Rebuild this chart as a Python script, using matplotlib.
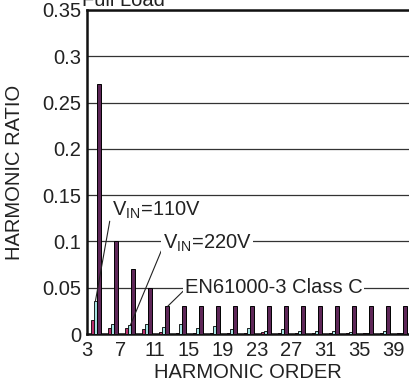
import matplotlib
matplotlib.use("Agg")
import matplotlib.pyplot as plt
import numpy as np

plt.rcParams['font.family'] = ['Liberation Sans', 'DejaVu Sans']
plt.rcParams['mathtext.fontset'] = 'custom'
plt.rcParams['mathtext.rm'] = 'Liberation Sans'
plt.rcParams['mathtext.it'] = 'Liberation Sans'

# odd harmonics 3..39
harmonics = list(range(3, 40, 2))

# measured harmonic ratio at full load
vin_110 = [0.015, 0.007, 0.006, 0.005, 0.0025, 0.0015, 0.001, 0.0015, 0.0015, 0.001,
           0.002, 0.001, 0.0015, 0.001, 0.0015, 0.0015, 0.001, 0.0015, 0.001]
vin_220 = [0.036, 0.0105, 0.0095, 0.0105, 0.008, 0.0105, 0.006, 0.0085, 0.005, 0.007,
           0.0035, 0.0055, 0.0035, 0.003, 0.003, 0.0025, 0.0012, 0.003, 0.0012]
# EN61000-3-2 class C limits
en_limit = [0.27, 0.10, 0.07, 0.05] + [0.03] * 15

xtick_vals = list(range(3, 40, 4))
ytick_vals = [0, 0.05, 0.1, 0.15, 0.2, 0.25, 0.3, 0.35]
ytick_labels = ['0', '0.05', '0.1', '0.15', '0.2', '0.25', '0.3', '0.35']

FS = 14.5

fig = plt.figure(figsize=(4.09, 3.90), dpi=100)
ax = fig.add_axes([87 / 409, 56 / 390, 323 / 409, 324 / 390])

h = np.array(harmonics)
ax.bar(h + 0.47, vin_110, width=0.35, align='edge', color='#b8306c',
       edgecolor='black', linewidth=0.6, zorder=3)
ax.bar(h + 0.82, vin_220, width=0.36, align='edge', color='#a6e3e3',
       edgecolor='black', linewidth=0.6, zorder=3)
ax.bar(h + 1.18, en_limit, width=0.47, align='edge', color='#5e2758',
       edgecolor='black', linewidth=0.7, zorder=3)

ax.set_xlim(3, 41)
ax.set_ylim(0, 0.35)
ax.set_xticks(xtick_vals)
ax.set_xticklabels([str(v) for v in xtick_vals])
ax.set_yticks(ytick_vals)
ax.set_yticklabels(ytick_labels)
ax.tick_params(axis='both', length=0, labelsize=FS, colors='#222222')
ax.tick_params(axis='x', pad=5)
ax.tick_params(axis='y', pad=4)

ax.yaxis.grid(True, color='#333333', linewidth=0.9, zorder=1)
ax.set_axisbelow(True)

for side in ['left', 'top', 'bottom']:
    ax.spines[side].set_linewidth(1.8)
    ax.spines[side].set_color('#111111')
ax.spines['right'].set_visible(False)

box = dict(facecolor='white', edgecolor='none', pad=1.0)
line = dict(arrowstyle='-', color='#222222', lw=0.8, shrinkA=0, shrinkB=0)

ax.annotate(r'V$_{\mathrm{IN}}$=110V', xy=(4.0, 0.036), xytext=(6.0, 0.134),
            fontsize=FS, va='center', ha='left', color='#222222',
            arrowprops=dict(line, relpos=(0, 0.7)), zorder=5)
ax.annotate(r'V$_{\mathrm{IN}}$=220V', xy=(8.1, 0.0095), xytext=(11.9, 0.098),
            fontsize=FS, va='center', ha='left', color='#222222', bbox=box,
            arrowprops=dict(line, relpos=(0, 0.3)), zorder=5)
ax.annotate('EN61000-3 Class C', xy=(12.5, 0.03), xytext=(14.5, 0.05),
            fontsize=FS, va='center', ha='left', color='#222222', bbox=box,
            arrowprops=dict(line, relpos=(0, 0.4)), zorder=5)

fig.text(82 / 409, 1 - 6 / 390, 'Full Load', fontsize=FS, ha='left',
         va='baseline', color='#222222')
fig.text(15 / 409, 1 - 172 / 390, 'HARMONIC RATIO', fontsize=FS, rotation=90,
         ha='center', va='center', color='#222222')
fig.text(248 / 409, 1 - 373 / 390, 'HARMONIC ORDER', fontsize=FS,
         ha='center', va='center', color='#222222')

fig.savefig('out.png', dpi=100)
